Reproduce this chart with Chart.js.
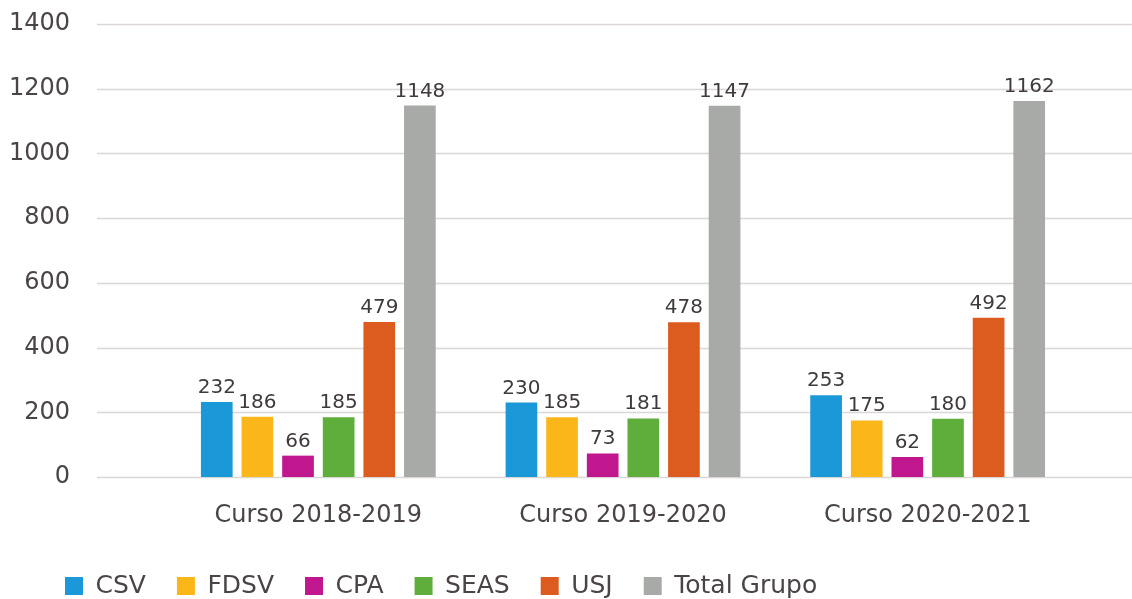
<!DOCTYPE html>
<html>
<head>
<meta charset="utf-8">
<script src="https://cdn.jsdelivr.net/npm/chart.js@4"></script>
<style>
  html, body { margin: 0; padding: 0; background: #fff; }
  #wrap { width: 1132px; height: 599px; }
</style>
</head>
<body>
<div id="wrap"><canvas id="myChart"></canvas></div>
<script>
const categories = ['Curso 2018-2019', 'Curso 2019-2020', 'Curso 2020-2021'];
const csv = [232, 230, 253];
const fdsv = [186, 185, 175];
const cpa = [66, 73, 62];
const seas = [185, 181, 180];
const usj = [479, 478, 492];
const totalGrupo = [1148, 1147, 1162];
const yTicks = [0, 200, 400, 600, 800, 1000, 1200, 1400];

const textColor = '#4a4446';
const fontName = "'DejaVu Sans', sans-serif";

// gridlines run past the chart area on both sides
const gridLines = {
    id: 'gridLines',
    beforeDatasetsDraw(chart) {
        const y = chart.scales.y;
        const c = chart.ctx;
        c.save();
        c.strokeStyle = '#dcd7d6';
        c.lineWidth = 1.5;
        yTicks.forEach(v => {
            const py = Math.round(y.getPixelForValue(v)) + 0.5;
            c.beginPath();
            c.moveTo(97, py);
            c.lineTo(chart.width, py);
            c.stroke();
        });
        c.restore();
    }
};

const valueLabels = {
    id: 'valueLabels',
    afterDatasetsDraw(chart) {
        const c = chart.ctx;
        c.save();
        c.font = '20px ' + fontName;
        c.fillStyle = '#3f3a3b';
        c.textAlign = 'center';
        c.textBaseline = 'alphabetic';
        chart.data.datasets.forEach((ds, i) => {
            chart.getDatasetMeta(i).data.forEach((bar, j) => {
                c.fillText(ds.data[j], bar.x, bar.y - 9);
            });
        });
        c.restore();
    }
};

// legend sits a little in from the left edge
const legendShift = {
    id: 'legendShift',
    afterLayout(chart) {
        chart.legend.left += 34;
    }
};

const ctx = document.getElementById('myChart');

new Chart(ctx, {
    type: 'bar',
    data: {
        labels: categories,
        datasets: [
            { label: 'CSV', data: csv, backgroundColor: '#1b98d8' },
            { label: 'FDSV', data: fdsv, backgroundColor: '#fbb619' },
            { label: 'CPA', data: cpa, backgroundColor: '#c0178e' },
            { label: 'SEAS', data: seas, backgroundColor: '#5fae3c' },
            { label: 'USJ', data: usj, backgroundColor: '#dc5b1f' },
            { label: 'Total Grupo', data: totalGrupo, backgroundColor: '#a8aaa8' }
        ]
    },
    options: {
        responsive: true,
        maintainAspectRatio: false,
        animation: false,
        categoryPercentage: 0.8,
        barPercentage: 0.78,
        layout: {
            padding: { left: 0, right: 52, top: 24, bottom: -9.5 }
        },
        scales: {
            x: {
                grid: { display: false, drawTicks: false },
                border: { display: false },
                ticks: {
                    color: textColor,
                    font: { family: fontName, size: 24 },
                    padding: 24
                },
                afterFit(scale) {
                    scale.height = 65.5;
                }
            },
            y: {
                min: 0,
                max: 1400,
                grid: { display: false, drawTicks: true, tickLength: 88 },
                border: { display: false },
                ticks: {
                    stepSize: 200,
                    color: textColor,
                    font: { family: fontName, size: 24 },
                    padding: 8,
                    callback: v => String(v)
                },
                afterFit(scale) {
                    scale.width = 166;
                }
            }
        },
        plugins: {
            legend: {
                position: 'bottom',
                align: 'start',
                labels: {
                    boxWidth: 18,
                    boxHeight: 18,
                    padding: 31,
                    color: textColor,
                    font: { family: fontName, size: 25 }
                }
            },
            tooltip: { enabled: false }
        }
    },
    plugins: [gridLines, valueLabels, legendShift]
});
</script>
</body>
</html>
